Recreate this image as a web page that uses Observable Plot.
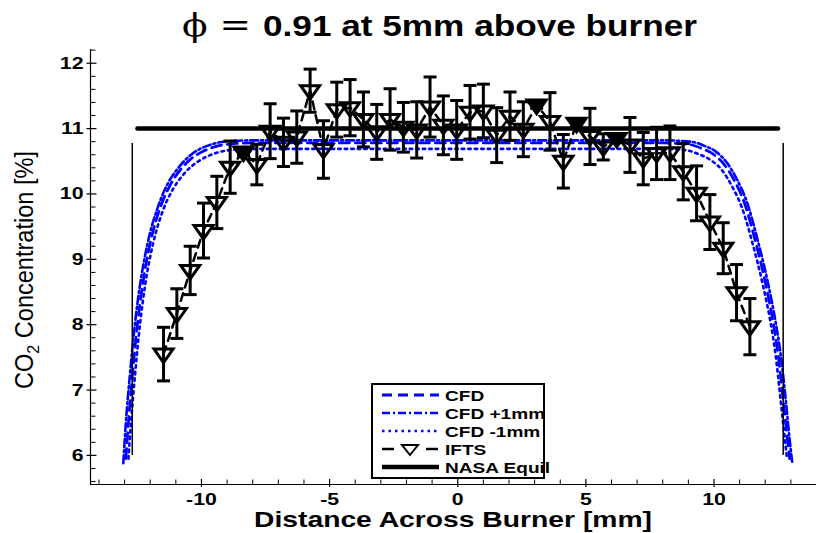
<!DOCTYPE html>
<html><head><meta charset="utf-8">
<script src="https://cdn.jsdelivr.net/npm/d3@7"></script>
<script src="https://cdn.jsdelivr.net/npm/@observablehq/plot@0.6"></script>
<style>
body{margin:0;background:#fff;}
#wrap{position:relative;width:816px;height:533px;overflow:hidden;}
#title{display:block;}
#chart svg{display:block;}
#legend{position:absolute;left:371px;top:383px;}
</style></head><body>
<div id="wrap"><svg id="title" width="816" height="45"></svg><div id="chart"></div><svg id="legend" width="200" height="100"></svg></div>
<script>
// ---------- data ----------
const titleSymbol = "ϕ = ";
const titleText = "0.91 at 5mm above burner";
const xLabel = "Distance Across Burner [mm]";
const yLabelParts = ["CO", "2", " Concentration [%]"];

const xTicks = [-10, -5, 0, 5, 10];
const yTicks = [6, 7, 8, 9, 10, 11, 12];
const xDomain = [-14.33, 14.0];
const yDomain = [5.555, 12.21];

// CFD
const cfdX = [-12.95,-12.85,-12.7,-12.5,-12.3,-12.0,-11.6,-11.2,-10.8,-10.4,-10.0,-9.5,-9.0,-8.0,-4.0,0,4.0,8.0,9.0,9.5,10.0,10.4,10.8,11.2,11.6,12.0,12.3,12.5,12.7,12.85,12.95];
const cfdY = [5.95,6.5,7.2,8.0,8.6,9.25,9.8,10.15,10.38,10.54,10.64,10.72,10.76,10.78,10.78,10.78,10.78,10.78,10.76,10.70,10.60,10.45,10.20,9.85,9.30,8.65,8.05,7.55,6.85,6.30,5.95];
// CFD +1mm
const cfdP1X = [-13.05,-12.95,-12.8,-12.6,-12.4,-12.1,-11.7,-11.3,-10.9,-10.5,-10.1,-9.6,-9.1,-8.0,-4.0,0,4.0,8.0,9.1,9.6,10.1,10.5,10.9,11.3,11.7,12.1,12.4,12.6,12.8,12.95,13.05];
const cfdP1Y = [5.88,6.5,7.2,8.0,8.6,9.25,9.8,10.17,10.40,10.57,10.68,10.76,10.80,10.82,10.82,10.82,10.82,10.82,10.80,10.74,10.64,10.48,10.22,9.86,9.30,8.65,8.05,7.55,6.85,6.25,5.90];
// CFD -1mm
const cfdM1X = [-12.85,-12.75,-12.6,-12.4,-12.2,-11.9,-11.5,-11.1,-10.7,-10.3,-9.9,-9.4,-8.9,-8.0,-4.0,0,4.0,8.0,8.9,9.4,9.9,10.3,10.7,11.1,11.5,11.9,12.2,12.4,12.6,12.75,12.85];
const cfdM1Y = [5.95,6.5,7.2,8.0,8.6,9.22,9.75,10.08,10.30,10.45,10.55,10.63,10.67,10.69,10.69,10.69,10.69,10.69,10.67,10.61,10.51,10.37,10.12,9.78,9.25,8.62,8.05,7.55,6.85,6.30,5.95];

// IFTS measurements
const iftsX = [-11.48,-10.96,-10.44,-9.92,-9.40,-8.88,-8.36,-7.84,-7.32,-6.80,-6.28,-5.76,-5.24,-4.72,-4.20,-3.68,-3.16,-2.64,-2.12,-1.60,-1.08,-0.56,-0.04,0.48,1.00,1.52,2.04,2.56,3.08,3.60,4.12,4.64,5.16,5.68,6.20,6.72,7.24,7.76,8.28,8.80,9.32,9.84,10.36,10.88,11.40];
const iftsY = [7.55,8.17,8.83,9.44,9.87,10.41,10.64,10.45,10.96,10.79,10.87,11.58,10.68,11.29,11.32,11.14,10.95,11.14,11.02,10.98,11.33,11.05,10.98,11.25,11.27,10.90,11.19,10.99,11.36,11.11,10.50,11.08,10.88,10.72,10.85,10.75,10.54,10.62,10.63,10.34,10.01,9.57,9.17,8.49,7.97];
const iftsErr = [0.41,0.38,0.37,0.42,0.40,0.40,0.05,0.31,0.42,0.37,0.40,0.33,0.44,0.42,0.43,0.42,0.42,0.47,0.38,0.43,0.46,0.45,0.45,0.41,0.41,0.42,0.37,0.42,0.05,0.44,0.41,0.05,0.43,0.20,0.05,0.42,0.40,0.40,0.41,0.43,0.42,0.42,0.39,0.43,0.43];

// NASA equilibrium
const nasaX = [-12.5, 12.5];
const nasaY = [11.0, 11.0];

// burner edges
const edgeX = [-12.7, 12.7];
const edgeY1 = [6.0, 6.0];
const edgeY2 = [10.77, 10.77];

const legendLabels = ["CFD", "CFD +1mm", "CFD -1mm", "IFTS", "NASA Equil"];

// ---------- build ----------
const BLUE = "#0000ff";
const FONT = "Liberation Sans, Arial, Helvetica, sans-serif";
const zip = (xs, ys) => xs.map((x, i) => ({x, y: ys[i]}));
const cfd = zip(cfdX, cfdY), cfdP1 = zip(cfdP1X, cfdP1Y), cfdM1 = zip(cfdM1X, cfdM1Y);
const ifts = iftsX.map((x, i) => ({x, y: iftsY[i], e: iftsErr[i]}));
const nasa = zip(nasaX, nasaY);
const edges = edgeX.map((x, i) => ({x, y1: edgeY1[i], y2: edgeY2[i]}));

const triDown = {draw(c){ c.moveTo(-9.5,-5); c.lineTo(9.5,-5); c.lineTo(0,8.5); c.closePath(); }};
const capSym = {draw(c){ c.moveTo(-6.5,0); c.lineTo(6.5,0); }};
const xMajorSym = {draw(c){ c.moveTo(0,-5.5); c.lineTo(0,2.5); }};
const xMinorSym = {draw(c){ c.moveTo(0,-5); c.lineTo(0,0); }};
const yMajorSym = {draw(c){ c.moveTo(-4,0); c.lineTo(6,0); }};
const yMinorSym = {draw(c){ c.moveTo(0,0); c.lineTo(5,0); }};

const xMinor = d3.range(-14, 14, 1).filter(v => v % 5 !== 0);
const yMinor = d3.range(5.6, 12.25, 0.2).map(v => +v.toFixed(1)).filter(v => Math.abs(v - Math.round(v)) > 1e-6);

const chart = Plot.plot({
  width: 816, height: 488,
  marginLeft: 90, marginRight: 0, marginTop: 4, marginBottom: 49,
  style: {fontFamily: FONT, fontWeight: "bold", fontSize: "17px", background: "white", overflow: "visible"},
  x: {domain: xDomain},
  y: {domain: yDomain},
  marks: [
    Plot.line(cfdP1, {x: "x", y: "y", stroke: BLUE, strokeWidth: 2.6, strokeDasharray: "8,3,2,3", curve: "monotone-x"}),
    Plot.line(cfdM1, {x: "x", y: "y", stroke: BLUE, strokeWidth: 2.6, strokeDasharray: "2.5,4", curve: "monotone-x"}),
    Plot.line(cfd, {x: "x", y: "y", stroke: BLUE, strokeWidth: 2.8, strokeDasharray: "10,6", curve: "monotone-x"}),
    Plot.ruleX(edges, {x: "x", y1: "y1", y2: "y2", stroke: "black", strokeWidth: 1.5}),
    Plot.line(ifts, {x: "x", y: "y", stroke: "black", strokeWidth: 2.5, strokeDasharray: "8,6"}),
    Plot.ruleX(ifts, {x: "x", y1: d => d.y - d.e, y2: d => d.y + d.e, stroke: "black", strokeWidth: 3}),
    Plot.dot(ifts, {x: "x", y: d => d.y + d.e, symbol: capSym, stroke: "black", strokeWidth: 3, fill: "none"}),
    Plot.dot(ifts, {x: "x", y: d => d.y - d.e, symbol: capSym, stroke: "black", strokeWidth: 3, fill: "none"}),
    Plot.dot(ifts, {x: "x", y: "y", symbol: triDown, stroke: "black", strokeWidth: 3,
      fill: d => d.e < 0.1 ? "black" : "none"}),
    Plot.line(nasa, {x: "x", y: "y", stroke: "black", strokeWidth: 4.5}),
    // axes
    Plot.ruleY([yDomain[0]], {stroke: "black", strokeWidth: 1.2}),
    Plot.ruleX([xDomain[0]], {stroke: "black", strokeWidth: 1.2}),
    Plot.dot(xMinor, {x: d => d, frameAnchor: "bottom", symbol: xMinorSym, stroke: "black", strokeWidth: 1, fill: "none"}),
    Plot.dot(xTicks, {x: d => d, frameAnchor: "bottom", symbol: xMajorSym, stroke: "black", strokeWidth: 1.2, fill: "none"}),
    Plot.dot(yMinor, {y: d => d, frameAnchor: "left", symbol: yMinorSym, stroke: "black", strokeWidth: 1, fill: "none"}),
    Plot.dot(yTicks, {y: d => d, frameAnchor: "left", symbol: yMajorSym, stroke: "black", strokeWidth: 1.2, fill: "none"}),
    Plot.axisX({ticks: xTicks, tickSize: 0, tickPadding: 8, tickFormat: d => String(d), label: null, fontSize: 17, fontWeight: "bold"}),
    Plot.axisY({ticks: yTicks, tickSize: 0, tickPadding: 7, tickFormat: d => String(d), label: null, fontSize: 17, fontWeight: "bold"})
  ]
});
document.getElementById("chart").appendChild(chart);

function stretchTexts(root, f) {
  root.querySelectorAll("text").forEach(t => {
    if (t.getAttribute("data-fixed")) return;
    const w = t.getComputedTextLength();
    if (w > 0) { t.setAttribute("textLength", (w * f).toFixed(1)); t.setAttribute("lengthAdjust", "spacingAndGlyphs"); }
  });
}
stretchTexts(chart, 1.25);

const svg = d3.select(chart);
// y label
const yl = svg.append("text").attr("data-fixed", 1)
  .attr("transform", "translate(33,225) rotate(-90)")
  .attr("text-anchor", "middle").attr("font-family", FONT).attr("font-weight", "normal")
  .attr("font-size", 25).attr("fill", "black")
  .attr("textLength", 238).attr("lengthAdjust", "spacingAndGlyphs");
yl.append("tspan").text(yLabelParts[0]);
yl.append("tspan").attr("font-size", 17).attr("dy", 6).text(yLabelParts[1]);
yl.append("tspan").attr("dy", -6).text(yLabelParts[2]);
// x label
svg.append("text").attr("data-fixed", 1)
  .attr("x", 453).attr("y", 482).attr("text-anchor", "middle")
  .attr("font-family", FONT).attr("font-weight", "bold").attr("font-size", 22).attr("fill", "black")
  .attr("textLength", 398).attr("lengthAdjust", "spacingAndGlyphs").text(xLabel);

// title
const tsvg = d3.select("#title");
const tt = tsvg.append("text").attr("x", 182).attr("y", 36).attr("fill", "black")
  .attr("textLength", 515).attr("lengthAdjust", "spacingAndGlyphs");
tt.append("tspan").attr("font-family", "DejaVu Serif, serif").attr("font-weight", "normal").attr("font-size", 31).text(titleSymbol);
tt.append("tspan").attr("font-family", FONT).attr("font-weight", "bold").attr("font-size", 29).text(titleText);

// legend
const lg = d3.select("#legend");
lg.append("rect").attr("x", 1).attr("y", 1).attr("width", 172).attr("height", 94)
  .attr("fill", "white").attr("stroke", "black").attr("stroke-width", 2);
const rowY = [12, 30, 48, 66, 84];
const styles = [
  {stroke: BLUE, w: 2.8, dash: "10,6"},
  {stroke: BLUE, w: 2.6, dash: "8,3,2,3"},
  {stroke: BLUE, w: 2.6, dash: "2.5,4"},
  null,
  {stroke: "black", w: 4.5, dash: null}
];
legendLabels.forEach((lab, i) => {
  const y = rowY[i];
  const s = styles[i];
  if (s) {
    lg.append("line").attr("x1", 11).attr("x2", 68).attr("y1", y).attr("y2", y)
      .attr("stroke", s.stroke).attr("stroke-width", s.w).attr("stroke-dasharray", s.dash);
  } else {
    lg.append("line").attr("x1", 11).attr("x2", 23).attr("y1", y).attr("y2", y).attr("stroke", "black").attr("stroke-width", 2.5);
    lg.append("line").attr("x1", 55).attr("x2", 67).attr("y1", y).attr("y2", y).attr("stroke", "black").attr("stroke-width", 2.5);
    lg.append("path").attr("d", `M${39-8},${y-4}L${39+8},${y-4}L39,${y+6}Z`).attr("fill", "none").attr("stroke", "black").attr("stroke-width", 2);
  }
  lg.append("text").attr("x", 74).attr("y", y + 5.5).attr("font-family", FONT).attr("font-weight", "bold")
    .attr("font-size", 15).attr("fill", "black").text(lab);
});
stretchTexts(document.getElementById("legend"), 1.27);
</script>
</body></html>
